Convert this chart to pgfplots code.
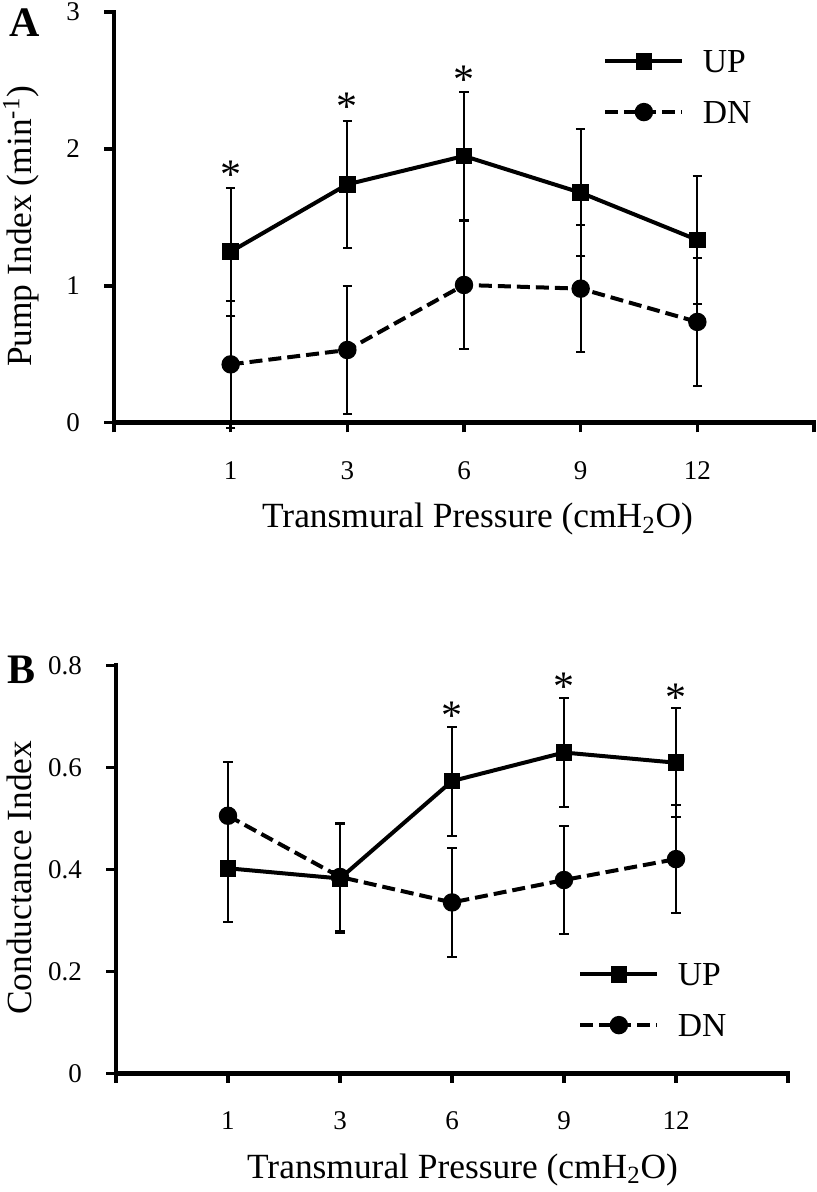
\documentclass[border=0pt]{standalone}
\usepackage{fontspec}
\setmainfont{Liberation Serif}
\usepackage{pgfplots}
\pgfplotsset{compat=1.18}
\newcommand{\lab}{\fontsize{17.7}{20}\selectfont}
\newcommand{\tck}{\fontsize{13.5}{15}\selectfont}
\newcommand{\leg}{\fontsize{16.8}{19}\selectfont}
\newcommand{\str}{\fontsize{21}{23}\selectfont}

\pgfplotstableread{
x y e
1 1.249 0.468
2 1.741 0.464
3 1.948 0.465
4 1.680 0.465
5 1.335 0.466
}\upA
\pgfplotstableread{
x y e
1 0.426 0.463
2 0.531 0.467
3 1.006 0.466
4 0.979 0.465
5 0.736 0.466
}\dnA
\pgfplotstableread{
x y e
1 0.402 0.106
2 0.382 0.107
3 0.573 0.107
4 0.629 0.106
5 0.609 0.107
}\upB
\pgfplotstableread{
x y e
1 0.505 0.106
2 0.385 0.106
3 0.335 0.107
4 0.379 0.106
5 0.420 0.106
}\dnB

\pgfplotsset{
  legend image code/.code={\draw[mark repeat=2,mark phase=2,#1] plot coordinates {(0pt,0pt) (19.25pt,0pt) (38.5pt,0pt)};},
  panel/.style={
    scale only axis, xmin=0, xmax=6, clip=false,
    axis lines*=left,
    axis line style={line width=2.2pt, line cap=rect, -},
    tick align=outside, major tick length=4.8pt,
    tick style={line width=1.8pt, black},
    xtick={0,1,2,3,4,5,6},
    xticklabels={,1,3,6,9,12,},
    /pgf/number format/assume math mode=true,
    ticklabel style={font=\tck},
    xticklabel style={anchor=base, inner sep=0pt, yshift=-23.5pt},
    yticklabel style={anchor=east, inner sep=0pt, xshift=-12pt},
    label style={font=\lab},
    legend cell align=left,
    legend style={draw=none, fill=none, font=\leg, anchor=north west, inner sep=0pt,
      row sep=14.35pt, column sep=9.25pt, nodes={inner sep=0pt, text height=11pt, text depth=0pt}},
  },
  ser/.style={black, line width=2pt,
    error bars/y dir=both, error bars/y explicit,
    error bars/error bar style={line width=1pt, solid},
    error bars/error mark options={rotate=90, mark size=2.4pt, line width=1pt, solid, black}},
  upser/.style={ser, solid, mark=square*, mark size=3.2pt, mark options={solid}},
  dnser/.style={ser, dash pattern=on 6.5pt off 3pt, mark=*, mark size=3.6pt, mark options={solid}},
  stars/.style={draw=none, mark=none, forget plot, nodes near coords={*},
    every node near coord/.append style={anchor=base, inner sep=0pt, font=\str}},
}

\begin{document}
\begin{tikzpicture}
\useasboundingbox (-58pt,-59.35pt) rectangle (350.5pt,536.65pt);

% Panel A
\begin{axis}[panel, at={(-1pt,325.3pt)}, anchor=south west,
  width=350pt, height=205.35pt, ymin=0, ymax=3,
  ytick={0,1,2,3}, yticklabels={0,1,2,3},
  xlabel={Transmural Pressure (cmH\textsubscript{2}O)},
  xlabel style={at={(axis description cs:0.211,0)}, anchor=base west, inner sep=0pt, yshift=-52.65pt},
  ylabel={Pump Index (min\textsuperscript{-1})},
  ylabel style={at={([xshift=-41pt,yshift=-4.5pt]axis description cs:0,0.5)}, anchor=base, inner sep=0pt},
  legend style={at={(axis description cs:0.6986,0.9075)}},
]
\addplot[upser] table[x=x, y=y, y error=e] {\upA};
\addlegendentry{UP}
\addplot[dnser] table[x=x, y=y, y error=e] {\dnA};
\addlegendentry{DN}
\addplot[stars] coordinates {(1,1.707) (2,2.209) (3,2.401)};
\node[anchor=base west, inner sep=0pt, font=\fontsize{21}{23}\selectfont\bfseries]
  at ([xshift=-52.5pt,yshift=-12.5pt]axis description cs:0,1) {A};
\end{axis}

% Panel B
\begin{axis}[panel, at={(0pt,0pt)}, anchor=south west,
  width=336pt, height=204pt, ymin=0, ymax=0.8,
  ytick={0,0.2,0.4,0.6,0.8}, yticklabels={0,0.2,0.4,0.6,0.8},
  xlabel={Transmural Pressure (cmH\textsubscript{2}O)},
  xlabel style={at={(axis description cs:0.1945,0)}, anchor=base west, inner sep=0pt, yshift=-52.35pt},
  ylabel={Conductance Index},
  ylabel style={at={([xshift=-42pt,yshift=-4.25pt]axis description cs:0,0.5)}, anchor=base, inner sep=0pt},
  legend style={at={(axis description cs:0.6875,0.2703)}},
]
\addplot[upser] table[x=x, y=y, y error=e] {\upB};
\addlegendentry{UP}
\addplot[dnser] table[x=x, y=y, y error=e] {\dnB};
\addlegendentry{DN}
\addplot[stars] coordinates {(3,0.6745) (4,0.7314) (5,0.7098)};
\node[anchor=base west, inner sep=0pt, font=\fontsize{21}{23}\selectfont\bfseries]
  at ([xshift=-54.5pt,yshift=-8.85pt]axis description cs:0,1) {B};
\end{axis}
\end{tikzpicture}
\end{document}
